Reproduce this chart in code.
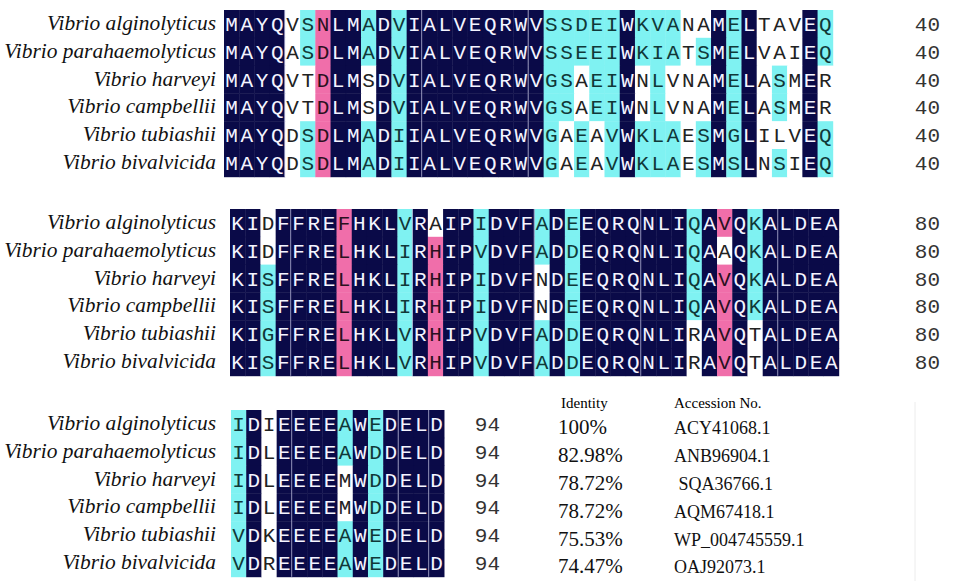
<!DOCTYPE html>
<html>
<head>
<meta charset="utf-8">
<script src="https://cdn.jsdelivr.net/npm/d3@7"></script>
<style>
  body { margin: 0; background: #fff; }
  svg { display: block; }
</style>
</head>
<body>
<script>
const w = 957;
const h = 581;

// species names (one row per sequence)
const species = [
  "Vibrio alginolyticus",
  "Vibrio parahaemolyticus",
  "Vibrio harveyi",
  "Vibrio campbellii",
  "Vibrio tubiashii",
  "Vibrio bivalvicida"
];

// residues 1-40
const seq1 = [
  "MAYQVSNLMADVIALVEQRWVSSDEIWKVANAMELTAVEQ",
  "MAYQASDLMADVIALVEQRWVSSEEIWKIATSMELVAIEQ",
  "MAYQVTDLMSDVIALVEQRWVGSAEIWNLVNAMELASMER",
  "MAYQVTDLMSDVIALVEQRWVGSAEIWNLVNAMELASMER",
  "MAYQDSDLMADIIALVEQRWVGAEAVWKLAESMGLILVEQ",
  "MAYQDSDLMADIIALVEQRWVGAEAVWKLAESMSLNSIEQ"
];
// shading level per residue: n = 100%, p = >=75%, c = >=50%, w = none
const shade1 = [
  "nnnnwcpnnc ncnnnnnnnn ncccccnccc wwncnwwwnc",
  "nnnnwcpnnc ncnnnnnnnn ncccccnccc wcncnwwwnc",
  "nnnnwwpnnw ncnnnnnnnn nccwccnwcw wwncnwcwnw",
  "nnnnwwpnnw ncnnnnnnnn nccwccnwcw wwncnwcwnw",
  "nnnnwcpnnc ncnnnnnnnn ncwcwcnccc wcncnwwwnc",
  "nnnnwcpnnc ncnnnnnnnn ncwcwcnccc wcncnwcwnc"
];

// residues 41-80
const seq2 = [
  "KIDFFREFHKLVRAIPIDVFADEEQRQNLIQAVQKALDEA",
  "KIDFFRELHKLIRHIPVDVFADDEQRQNLIQAAQKALDEA",
  "KISFFRELHKLIRHIPIDVFNDEEQRQNLIQAVQKALDEA",
  "KISFFRELHKLIRHIPIDVFNDEEQRQNLIQAVQKALDEA",
  "KIGFFRELHKLVRHIPVDVFADDEQRQNLIRAVQTALDEA",
  "KISFFRELHKLVRHIPVDVFADDEQRQNLIRAVQTALDEA"
];
const shade2 = [
  "nnwnnnnpnn ncnwnncnnn cncnnnnnnn cnpncnnnnn",
  "nnwnnnnpnn ncnpnncnnn cncnnnnnnn cnwncnnnnn",
  "nncnnnnpnn ncnpnncnnn wncnnnnnnn cnpncnnnnn",
  "nncnnnnpnn ncnpnncnnn wncnnnnnnn cnpncnnnnn",
  "nncnnnnpnn ncnpnncnnn cncnnnnnnn wnpnwnnnnn",
  "nncnnnnpnn ncnpnncnnn cncnnnnnnn wnpnwnnnnn"
];

// residues 81-94
const seq3 = [
  "IDIEEEEAWEDELD",
  "IDLEEEEAWDDELD",
  "IDLEEEEMWDDELD",
  "IDLEEEEMWDDELD",
  "VDKEEEEAWEDELD",
  "VDREEEEAWEDELD"
];
const shade3 = [
  "cnwnnnncncnnnn",
  "cnwnnnncncnnnn",
  "cnwnnnnwncnnnn",
  "cnwnnnnwncnnnn",
  "cnwnnnncncnnnn",
  "cnwnnnncncnnnn"
];

// column boundaries where the picture shows a thin light rule
const rules1 = [4, 13, 20];
const rules2 = [4, 12, 20, 27, 36];
const rules3 = [4, 11, 13];

const endNumbers = [40, 80, 94];

const identity = ["100%", "82.98%", "78.72%", "78.72%", "75.53%", "74.47%"];
const accession = ["ACY41068.1", "ANB96904.1", " SQA36766.1", "AQM67418.1", "WP_004745559.1", "OAJ92073.1"];

const shadeColor = { n: "#0a0a48", p: "#f06eaa", c: "#7ff2f2", w: "#ffffff" };
const textColor = { n: "#f4f4ff", p: "#2a1020", c: "#103838", w: "#222222" };

const cw = 15.22;
const rh = 27.8;

const blocks = [
  { seqs: seq1, shades: shade1, rules: rules1, top: 10, x0: 224, numX: 940, end: endNumbers[0] },
  { seqs: seq2, shades: shade2, rules: rules2, top: 209, x0: 230, numX: 940, end: endNumbers[1] },
  { seqs: seq3, shades: shade3, rules: rules3, top: 410, x0: 231, numX: 500, end: endNumbers[2] }
];

const svg = d3
  .select("body")
  .append("svg")
  .attr("width", w)
  .attr("height", h);

blocks.forEach(function(b) {
  const shades = b.shades.map(s => s.replace(/ /g, ""));
  const ncol = b.seqs[0].length;

  const xScale = d3
    .scaleBand()
    .domain(d3.range(ncol))
    .range([b.x0, b.x0 + ncol * cw]);
  const yScale = d3
    .scaleBand()
    .domain(species)
    .range([b.top, b.top + species.length * rh]);

  const cells = [];
  b.seqs.forEach((s, r) => {
    s.split("").forEach((aa, i) => {
      cells.push({ sp: species[r], col: i, aa: aa, lvl: shades[r][i] });
    });
  });

  const g = svg.append("g");

  // background shading
  g.selectAll("rect")
    .data(cells)
    .enter()
    .append("rect")
    .attr("x", d => xScale(d.col))
    .attr("y", d => yScale(d.sp))
    .attr("width", xScale.bandwidth() + 0.4)
    .attr("height", yScale.bandwidth() + 0.4)
    .attr("fill", d => shadeColor[d.lvl]);

  // thin separators
  g.selectAll("line")
    .data(b.rules)
    .enter()
    .append("line")
    .attr("x1", d => xScale(d) - 0.2)
    .attr("x2", d => xScale(d) - 0.2)
    .attr("y1", b.top)
    .attr("y2", b.top + species.length * rh)
    .style("stroke", "#b8b8d8")
    .style("stroke-width", 0.8);

  // residues
  g.selectAll("text.aa")
    .data(cells)
    .enter()
    .append("text")
    .attr("class", "aa")
    .attr("x", d => xScale(d.col) + xScale.bandwidth() / 2)
    .attr("y", d => yScale(d.sp) + yScale.bandwidth() / 2 + 7)
    .attr("text-anchor", "middle")
    .style("font-family", "'Courier New', 'Liberation Mono', monospace")
    .style("font-size", "21px")
    .style("fill", d => textColor[d.lvl])
    .text(d => d.aa);

  // species labels
  g.selectAll("text.label")
    .data(species)
    .enter()
    .append("text")
    .attr("class", "label")
    .attr("x", 216)
    .attr("y", d => yScale(d) + yScale.bandwidth() / 2 + 6)
    .attr("text-anchor", "end")
    .style("font-family", "'Times New Roman', 'Liberation Serif', serif")
    .style("font-style", "italic")
    .style("font-size", "21.4px")
    .style("fill", "#111")
    .text(d => d);

  // position numbers
  g.selectAll("text.num")
    .data(species)
    .enter()
    .append("text")
    .attr("class", "num")
    .attr("x", b.numX)
    .attr("y", d => yScale(d) + yScale.bandwidth() / 2 + 7)
    .attr("text-anchor", "end")
    .style("font-family", "'Courier New', 'Liberation Mono', monospace")
    .style("font-size", "21px")
    .style("fill", "#333")
    .text(b.end);

  // identity table beside the last block
  if (b.end === endNumbers[2]) {
    g.append("line")
      .attr("x1", 915)
      .attr("x2", 915)
      .attr("y1", 402)
      .attr("y2", h)
      .style("stroke", "#ececec");

    g.append("text")
      .attr("x", 561)
      .attr("y", 408)
      .style("font-family", "'Times New Roman', 'Liberation Serif', serif")
      .style("font-size", "15px")
      .text("Identity");
    g.append("text")
      .attr("x", 674)
      .attr("y", 408)
      .style("font-family", "'Times New Roman', 'Liberation Serif', serif")
      .style("font-size", "15px")
      .text("Accession No.");

    g.selectAll("text.ident")
      .data(identity)
      .enter()
      .append("text")
      .attr("class", "ident")
      .attr("x", 558)
      .attr("y", (d, i) => yScale(species[i]) + yScale.bandwidth() / 2 + 10.5)
      .style("font-family", "'Times New Roman', 'Liberation Serif', serif")
      .style("font-size", "21px")
      .style("fill", "#111")
      .text(d => d);

    g.selectAll("text.acc")
      .data(accession)
      .enter()
      .append("text")
      .attr("class", "acc")
      .attr("x", 674)
      .attr("y", (d, i) => yScale(species[i]) + yScale.bandwidth() / 2 + 10.5)
      .style("font-family", "'Times New Roman', 'Liberation Serif', serif")
      .style("font-size", "18px")
      .style("white-space", "pre")
      .style("fill", "#111")
      .text(d => d);
  }
});
</script>
</body>
</html>
